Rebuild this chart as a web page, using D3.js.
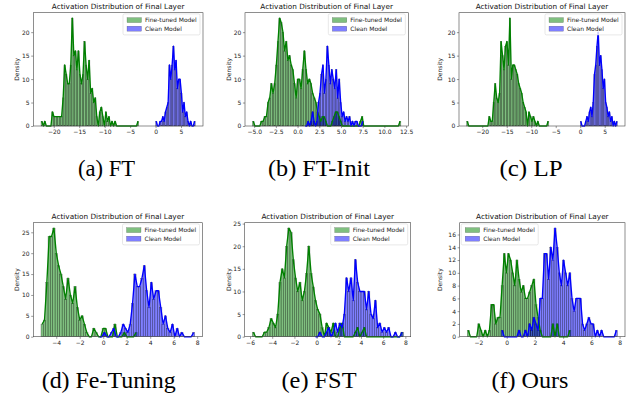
<!DOCTYPE html>
<html><head><meta charset="utf-8">
<script src="https://cdn.jsdelivr.net/npm/d3@7"></script>
<style>body{margin:0;background:#fff}svg{display:block}</style>
</head><body>
<script>
// ---------------- DATA ----------------
const captions = ["(a) FT", "(b) FT-Init", "(c) LP", "(d) Fe-Tuning", "(e) FST", "(f) Ours"];
const title = "Activation Distribution of Final Layer";
const seriesNames = ["Fine-tuned Model", "Clean Model"];

// (a) FT
const aGreenRange = [-22.5, -3.3];
const aGreen = [1,0,1,0,0,0,0,3,2,2,2,2,2,2,6,13,11,9,9,13,23,15,16,12,16,11,9,11,18,13,10,14,7,8,5,6,2,0,3,4,2,0,3,1,2,0,1,0,1,0,0,0,0,0,0,0,0,0,0,0,0,0,0,1];
const aBlueRange = [0, 7.8];
const aBlue = [1,0,0,1,1,2,1,3,4,5,13,10,13,17,12,14,8,10,10,7,3,5,2,3,1,0,1,0,0,1];
const aXTicks = [-20,-15,-10,-5,0,5];
const aYTicks = [0,5,10,15,20];

// (b) FT-Init
const bGreenRange = [-5.2, 11.9];
const bGreen = [1,0,0,0,0,1,1,2,2,5,6,9,7,9,13,18,23,22,20,16,18,14,15,13,12,9,6,10,10,8,12,16,12,9,10,9,7,6,5,3,2,1,2,2,1,0,0,0,1,2,3,3,2,1,0,0,0,0,0,0,0,0,0,0,0,1,2,0,0,0,0,0,0,0,0,0,0,0,0,0,0,0,0,0,0,0,0,0,0,1];
const bBlueRange = [0.8, 7.6];
const bBlue = [0,0,1,0,1,3,1,0,1,5,7,11,13,7,10,17,13,9,12,10,8,12,6,10,5,2,3,1,2,1,2,0,1,0,1,1,0,0,0,1];
const bXTicks = [-5,-2.5,0,2.5,5,7.5,10,12.5];
const bYTicks = [0,5,10,15,20];

// (c) LP
const cGreenRange = [-23.2, -6.4];
const cGreen = [1,0,0,0,0,0,0,0,0,0,0,0,0,0,0,2,1,1,5,9,6,5,7,18,15,12,17,18,13,23,10,13,13,12,11,9,8,7,5,4,3,0,3,2,1,2,1,0,1,0,0,0,0,0,0,1];
const cBlueRange = [0, 7.6];
const cBlue = [1,0,0,0,1,2,1,3,4,2,5,11,13,17,20,13,15,12,8,10,5,4,2,3,1,2,0,1,0,1];
const cXTicks = [-20,-15,-10,-5,0,5];
const cYTicks = [0,5,10,15,20];

// (d) Fe-Tuning
const dGreenRange = [-5.3, 2.9];
const dGreen = [3,4,13,24,24,26,20,17,15,12,9,14,10,8,12,7,4,5,3,1,0,0,2,1,0,0,2,2,0,0,0,3,0,0,0,1,0,0,0,0,1];
const dBlueRange = [-0.4, 7.8];
const dBlue = [0,0,1,0,0,1,2,0,0,1,3,2,1,3,8,15,12,12,14,17,11,7,13,9,11,11,7,3,5,2,1,3,0,2,0,1,0,0,0,0,1];
const dXTicks = [-4,-2,0,2,4,6,8];
const dYTicks = [0,5,10,15,20,25];

// (e) FST
const eGreenRange = [-5.8, 7.8];
const eGreen = [1,0,0,0,0,1,1,2,4,3,2,5,12,15,13,20,24,23,17,13,10,12,8,10,14,20,14,11,8,6,5,2,0,3,2,1,3,0,0,2,3,0,0,0,0,0,1,2,0,1,2,0,0,0,0,0,0,0,0,0,0,0,0,0,0,0,0,1];
const eBlueRange = [-0.2, 7.8];
const eBlue = [0,0,1,0,0,1,2,0,1,3,1,3,2,5,13,10,13,8,17,12,10,10,10,6,10,5,4,8,2,3,1,2,1,2,0,0,1,0,0,1];
const eXTicks = [-6,-4,-2,0,2,4,6,8];
const eYTicks = [0,5,10,15,20,25];

// (f) Ours
const fGreenRange = [-2.8, 4.55];
const fGreen = [1,0,0,0,0,2,1,0,1,0,1,5,5,2,3,3,8,13,10,13,12,10,8,12,9,7,8,6,6,7,8,9,5,3,1,0,0,0,0,0,2,0,2,0,0,0,0,0,1];
const fBlueRange = [-0.4, 7.85];
const fBlue = [1,0,0,0,0,0,0,0,1,0,0,1,0,2,1,3,2,1,6,6,13,13,9,14,12,17,14,10,8,12,10,8,10,6,4,6,6,6,2,1,2,3,2,2,0,1,0,1,0,0,0,0,0,0,1];
const fXTicks = [-2,0,2,4,6,8];
const fYTicks = [0,2,4,6,8,10,12,14,16];

// ---------------- LAYOUT ----------------
const W = 641, H = 399;
const layout = [
  {x0:33.3, x1:203,   y0:12.7,  y1:126,   ylab:16.7, cap:[106.5,176], capW:57,  leg:"right"},
  {x0:245,  x1:408.3, y0:12.7,  y1:126,   ylab:229,  cap:[319,176],   capW:102, leg:"right"},
  {x0:459,  x1:625,   y0:12.7,  y1:126,   ylab:440,  cap:[531,176],   capW:63,  leg:"right"},
  {x0:33.3, x1:202.5, y0:222.7, y1:336.7, ylab:17.3, cap:[108.7,387.5], capW:134, leg:"right"},
  {x0:244.7,x1:410.7, y0:222.7, y1:336.7, ylab:229,  cap:[319,387.5], capW:75,  leg:"right"},
  {x0:459.7,x1:625,   y0:222.7, y1:336.7, ylab:440,  cap:[530,387.5], capW:77,  leg:"left"}
];
const panels = [
  {g:aGreen, gr:aGreenRange, b:aBlue, br:aBlueRange, xt:aXTicks, yt:aYTicks, fmt:d3.format("d")},
  {g:bGreen, gr:bGreenRange, b:bBlue, br:bBlueRange, xt:bXTicks, yt:bYTicks, fmt:d3.format(".1f")},
  {g:cGreen, gr:cGreenRange, b:cBlue, br:cBlueRange, xt:cXTicks, yt:cYTicks, fmt:d3.format("d")},
  {g:dGreen, gr:dGreenRange, b:dBlue, br:dBlueRange, xt:dXTicks, yt:dYTicks, fmt:d3.format("d")},
  {g:eGreen, gr:eGreenRange, b:eBlue, br:eBlueRange, xt:eXTicks, yt:eYTicks, fmt:d3.format("d")},
  {g:fGreen, gr:fGreenRange, b:fBlue, br:fBlueRange, xt:fXTicks, yt:fYTicks, fmt:d3.format("d")}
];
const GREEN = "#008000", BLUE = "#0000ff";
const FONT = "DejaVu Sans, sans-serif";

const svg = d3.select("body").append("svg").attr("width", W).attr("height", H)
  .attr("viewBox", `0 0 ${W} ${H}`);
svg.append("rect").attr("width", W).attr("height", H).attr("fill", "#fff");

function toBins(counts, range) {
  const w = (range[1] - range[0]) / counts.length;
  return counts.map((c, i) => ({x0: range[0] + i * w, x1: range[0] + (i + 1) * w, c}));
}

panels.forEach((p, k) => {
  const L = layout[k];
  const g = svg.append("g");
  const gb = toBins(p.g, p.gr), bb = toBins(p.b, p.br);
  const lo = Math.min(p.gr[0], p.br[0]), hi = Math.max(p.gr[1], p.br[1]);
  const pad = (hi - lo) * 0.05;
  const x = d3.scaleLinear().domain([lo - pad, hi + pad]).range([L.x0, L.x1]);
  const ymax = d3.max([...p.g, ...p.b]) * 1.05;
  const y = d3.scaleLinear().domain([0, ymax]).range([L.y1, L.y0]);

  const drawBars = (bins, col) => {
    g.append("g").selectAll("rect").data(bins).join("rect")
      .attr("x", d => x(d.x0)).attr("width", d => x(d.x1) - x(d.x0))
      .attr("y", d => y(d.c)).attr("height", d => y(0) - y(d.c))
      .attr("fill", col).attr("fill-opacity", 0.5)
      .attr("stroke", "#000").attr("stroke-opacity", 0.55).attr("stroke-width", 0.4);
  };
  drawBars(gb, GREEN);
  drawBars(bb, BLUE);
  const line = d3.line().x(d => x((d.x0 + d.x1) / 2)).y(d => y(d.c));
  g.append("path").datum(gb).attr("d", line).attr("fill", "none").attr("stroke", GREEN).attr("stroke-width", 1.35).attr("stroke-linejoin", "round");
  g.append("path").datum(bb).attr("d", line).attr("fill", "none").attr("stroke", BLUE).attr("stroke-width", 1.35).attr("stroke-linejoin", "round");

  // axes
  const xa = g.append("g").attr("transform", `translate(0,${L.y1})`)
    .call(d3.axisBottom(x).tickValues(p.xt).tickFormat(p.fmt).tickSize(2.1).tickPadding(1.6));
  const ya = g.append("g").attr("transform", `translate(${L.x0},0)`)
    .call(d3.axisLeft(y).tickValues(p.yt).tickFormat(d3.format("d")).tickSize(2.1).tickPadding(1.6));
  [xa, ya].forEach(a => {
    a.select(".domain").remove();
    a.selectAll("line").attr("stroke", "#333").attr("stroke-width", 0.5);
    a.selectAll("text").attr("font-family", FONT).attr("font-size", 6).attr("fill", "#222");
  });
  // frame
  g.append("rect").attr("x", L.x0).attr("y", L.y0).attr("width", L.x1 - L.x0).attr("height", L.y1 - L.y0)
    .attr("fill", "none").attr("stroke", "#444").attr("stroke-width", 0.6);

  // title
  g.append("text").attr("x", (L.x0 + L.x1) / 2).attr("y", L.y0 - 3.3).attr("text-anchor", "middle")
    .attr("font-family", FONT).attr("font-size", 7.3).attr("fill", "#111").text(title);
  // y label
  g.append("text").attr("transform", `translate(${L.ylab},${(L.y0 + L.y1) / 2}) rotate(-90)`)
    .attr("text-anchor", "middle").attr("dy", "0.35em")
    .attr("font-family", FONT).attr("font-size", 6).attr("fill", "#222").text("Density");

  // legend
  const lw = 77, lh = 21;
  const lx = L.leg === "right" ? L.x1 - 3 - lw : L.x0 + 1.5;
  const ly = L.y0 + 1.2;
  const lg = g.append("g").attr("transform", `translate(${lx},${ly})`);
  lg.append("rect").attr("width", lw).attr("height", lh).attr("rx", 1.5)
    .attr("fill", "#fff").attr("fill-opacity", 0.8).attr("stroke", "#d6d6d6").attr("stroke-width", 0.6);
  [GREEN, BLUE].forEach((c, i) => {
    const cy = 6.2 + i * 8.6;
    lg.append("rect").attr("x", 4).attr("y", cy - 2.5).attr("width", 14.5).attr("height", 5)
      .attr("fill", c).attr("fill-opacity", 0.5).attr("stroke", "#000").attr("stroke-opacity", 0.45).attr("stroke-width", 0.35);
    lg.append("text").attr("x", 22).attr("y", cy).attr("dy", "0.35em")
      .attr("font-family", FONT).attr("font-size", 6).attr("fill", "#222").text(seriesNames[i]);
  });

  // caption
  svg.append("text").attr("x", L.cap[0]).attr("y", L.cap[1]).attr("text-anchor", "middle")
    .attr("font-family", "Liberation Serif, Times New Roman, serif").attr("font-size", 23)
    .attr("fill", "#000").attr("textLength", L.capW).attr("lengthAdjust", "spacingAndGlyphs")
    .text(captions[k]);
});
</script>
</body></html>
